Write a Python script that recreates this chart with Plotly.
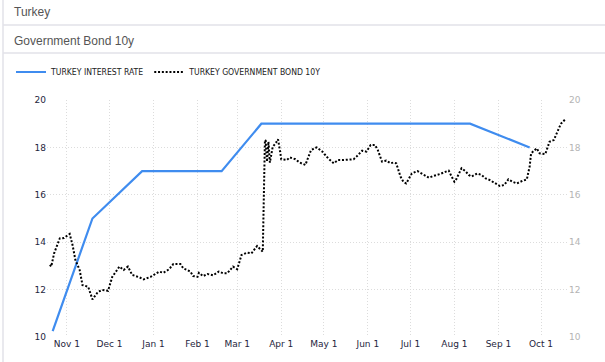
import plotly.graph_objects as go

# ---- data ----
rate_dates = ["2020-10-22", "2020-11-19", "2020-12-24", "2021-02-18",
              "2021-03-18", "2021-08-12", "2021-09-23"]
rate_values = [10.25, 15, 17, 17, 19, 19, 18]

bond_dates = [
    "2020-10-20", "2020-10-21", "2020-10-23", "2020-10-27", "2020-10-30",
    "2020-11-03", "2020-11-05", "2020-11-07", "2020-11-10", "2020-11-12",
    "2020-11-16", "2020-11-19", "2020-11-23", "2020-11-26", "2020-11-30",
    "2020-12-03", "2020-12-08", "2020-12-11", "2020-12-14", "2020-12-17",
    "2020-12-22", "2020-12-25", "2020-12-30", "2021-01-05", "2021-01-08",
    "2021-01-12", "2021-01-15", "2021-01-20", "2021-01-22", "2021-01-27",
    "2021-01-29", "2021-02-01", "2021-02-02", "2021-02-05", "2021-02-08",
    "2021-02-12", "2021-02-16", "2021-02-19", "2021-02-22", "2021-02-26",
    "2021-03-01", "2021-03-04", "2021-03-08", "2021-03-11", "2021-03-15",
    "2021-03-17", "2021-03-19", "2021-03-20 12:00", "2021-03-21", "2021-03-22",
    "2021-03-23", "2021-03-24", "2021-03-26", "2021-03-28", "2021-03-29 18:00",
    "2021-03-31", "2021-04-01", "2021-04-05", "2021-04-07", "2021-04-11",
    "2021-04-14", "2021-04-18", "2021-04-20", "2021-04-22", "2021-04-26",
    "2021-04-30", "2021-05-02", "2021-05-04", "2021-05-08", "2021-05-11",
    "2021-05-15", "2021-05-18", "2021-05-22", "2021-05-24", "2021-05-28",
    "2021-05-31", "2021-06-03", "2021-06-06", "2021-06-08", "2021-06-11",
    "2021-06-14", "2021-06-17", "2021-06-19", "2021-06-21", "2021-06-24",
    "2021-06-26", "2021-06-28", "2021-06-30", "2021-07-02", "2021-07-06",
    "2021-07-08", "2021-07-11", "2021-07-14", "2021-07-17", "2021-07-21",
    "2021-07-22", "2021-07-26", "2021-07-28", "2021-07-30", "2021-08-01",
    "2021-08-02", "2021-08-04", "2021-08-06", "2021-08-09", "2021-08-11",
    "2021-08-13", "2021-08-17", "2021-08-20", "2021-08-23", "2021-08-26",
    "2021-08-30", "2021-09-02", "2021-09-05", "2021-09-08", "2021-09-11",
    "2021-09-14", "2021-09-18", "2021-09-21", "2021-09-23", "2021-09-24",
    "2021-09-28", "2021-09-30", "2021-10-04", "2021-10-07", "2021-10-10",
    "2021-10-12", "2021-10-15", "2021-10-18",
]
bond_values = [
    13.04, 12.97, 13.53, 14.16, 14.18,
    14.35, 13.88, 13.25, 12.83, 12.19,
    12.12, 11.59, 11.91, 11.98, 11.95,
    12.54, 12.97, 12.83, 12.97, 12.62,
    12.52, 12.43, 12.54, 12.76, 12.71,
    12.86, 13.08, 13.08, 12.90, 12.76,
    12.57, 12.54, 12.71, 12.57, 12.66,
    12.60, 12.76, 12.69, 12.69, 12.97,
    12.86, 13.46, 13.56, 13.53, 13.84,
    13.74, 13.60, 18.28, 18.31, 17.40,
    18.24, 17.36, 18.03, 18.17, 18.34,
    17.89, 17.50, 17.47, 17.58, 17.50,
    17.36, 17.26, 17.61, 17.89, 18.00,
    17.82, 17.68, 17.54, 17.33, 17.47,
    17.47, 17.47, 17.50, 17.61, 17.86,
    17.82, 18.10, 18.10, 17.89, 17.40,
    17.44, 17.33, 17.36, 17.33, 16.77,
    16.55, 16.48, 16.69, 16.90, 17.00,
    16.93, 16.84, 16.72, 16.79, 16.84,
    16.88, 16.98, 17.02, 16.77, 16.55,
    16.62, 16.84, 17.12, 16.98, 16.84,
    16.77, 16.90, 16.84, 16.69, 16.62,
    16.48, 16.37, 16.41, 16.65, 16.55,
    16.48, 16.59, 16.65, 17.20, 17.75,
    17.96, 17.75, 17.72, 18.24, 18.31,
    18.59, 19.00, 19.18,
]

y_ticks = [10, 12, 14, 16, 18, 20]

# ---- figure ----
fig = go.Figure()
fig.add_trace(go.Scatter(
    x=rate_dates, y=rate_values, mode="lines", name="TURKEY INTEREST RATE",
    line=dict(color="#3f8cef", width=2.2), yaxis="y",
))
fig.add_trace(go.Scatter(
    x=bond_dates, y=bond_values, mode="lines", name="TURKEY GOVERNMENT BOND 10Y",
    line=dict(color="#000000", width=2.0, dash="2px,1.8px"), yaxis="y2",
))

W, H = 605, 362
L, R, T, B = 47, 37, 100, 25
pw = W - L - R
ph = H - T - B

def px(xp):
    return (xp - L) / pw

def py(yp):
    return (H - B - yp) / ph

grid = dict(showgrid=True, gridcolor="#dcdcdc", griddash="1px,2px", gridwidth=1)
tickfont = dict(family="DejaVu Sans", size=9, color="#25253d")

fig.update_layout(
    width=W, height=H,
    margin=dict(l=L, r=R, t=T, b=B, autoexpand=False),
    paper_bgcolor="white", plot_bgcolor="white",
    xaxis=dict(
        type="date", range=["2020-10-18", "2021-10-20"],
        tick0="2020-11-01", dtick="M1", tickformat="%b %-d",
        tickfont=tickfont, zeroline=False, showline=False, ticks="",
        automargin=False, **grid,
    ),
    yaxis=dict(
        range=[10, 20], tickvals=y_ticks, tickfont=tickfont,
        zeroline=False, showline=False, ticks="", automargin=False, **grid,
    ),
    yaxis2=dict(
        range=[10, 20], tickvals=y_ticks, overlaying="y", side="right",
        tickfont=dict(family="DejaVu Sans", size=9, color="#b4b4b4"),
        showgrid=False, zeroline=False, showline=False, ticks="", automargin=False,
    ),
    legend=dict(
        orientation="h", x=px(11), xanchor="left", y=py(72), yanchor="middle",
        font=dict(family="Liberation Sans Narrow, DejaVu Sans Condensed, Liberation Sans",
                  size=8.6, color="#222222"),
        bgcolor="rgba(0,0,0,0)", itemwidth=30, tracegroupgap=0,
    ),
    annotations=[
        dict(text="Turkey", xref="paper", yref="paper", x=px(12), y=py(12),
             xanchor="left", yanchor="middle", showarrow=False,
             font=dict(family="Liberation Sans", size=12, color="#555555")),
        dict(text="Government Bond 10y", xref="paper", yref="paper", x=px(12), y=py(41),
             xanchor="left", yanchor="middle", showarrow=False,
             font=dict(family="Liberation Sans", size=12, color="#555555")),
    ],
    shapes=[
        dict(type="line", xref="paper", yref="paper", x0=px(3), x1=px(605),
             y0=py(25), y1=py(25), line=dict(color="#e2e2e8", width=1.5)),
        dict(type="line", xref="paper", yref="paper", x0=px(3), x1=px(605),
             y0=py(53), y1=py(53), line=dict(color="#e2e2e8", width=1.5)),
        dict(type="line", xref="paper", yref="paper", x0=px(3), x1=px(3),
             y0=py(0), y1=py(362), line=dict(color="#e2e2e8", width=1.5)),
    ],
)

fig.write_html("out.html", config={"displayModeBar": False},
               post_script="document.body.style.margin='0';document.body.style.padding='0';")
